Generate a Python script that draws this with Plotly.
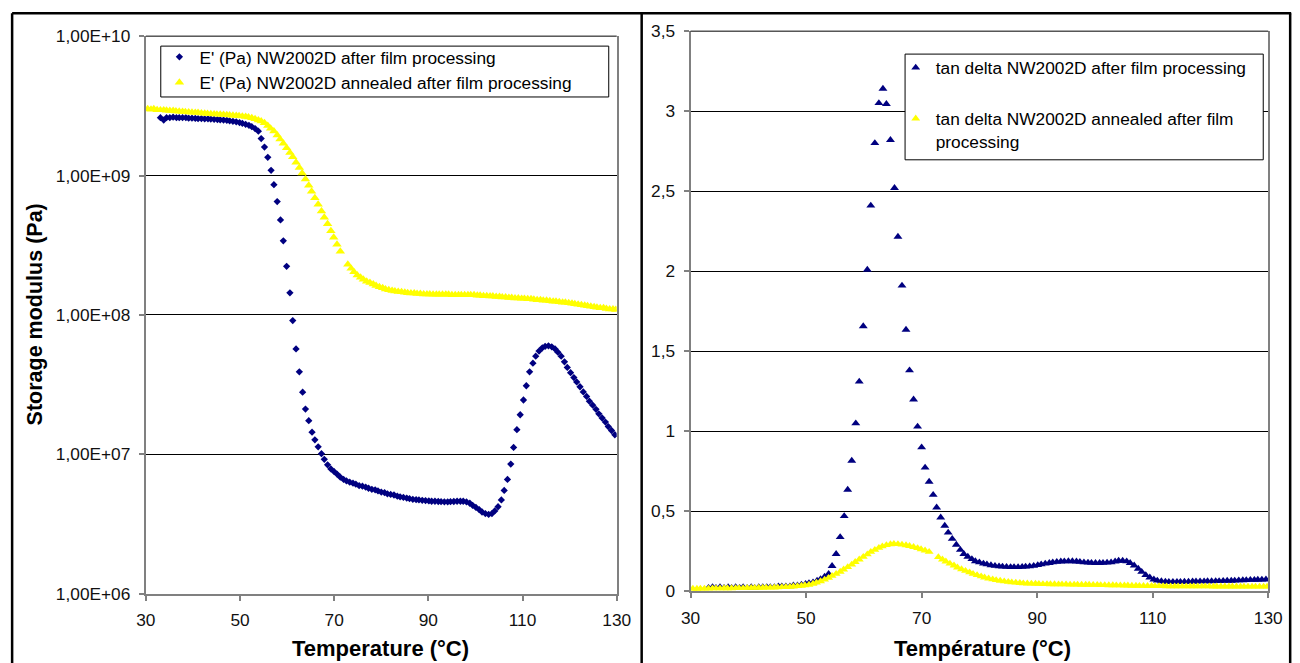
import plotly.graph_objects as go

# ---------------- data ----------------
# temperatures (°C) of the sample "after film processing"
T_BLUE = [
    33.1, 33.8, 34.4, 35.1, 35.8, 36.5, 37.1, 37.8, 38.5, 39.1,
    39.8, 40.5, 41.1, 41.8, 42.5, 43.2, 43.8, 44.5, 45.2, 45.8,
    46.5, 47.2, 47.8, 48.5, 49.2, 49.9, 50.5, 51.2, 51.9, 52.5,
    53.2, 53.9, 54.5, 55.2, 55.9, 56.6, 57.2, 57.9, 58.6, 59.2,
    59.9, 60.6, 61.2, 61.9, 62.6, 63.3, 63.9, 64.6, 65.3, 65.9,
    66.6, 67.3, 67.9, 68.6, 69.3, 70.0, 70.6, 71.3, 72.0, 72.6,
    73.3, 74.0, 74.6, 75.3, 76.0, 76.7, 77.3, 78.0, 78.7, 79.3,
    80.0, 80.7, 81.3, 82.0, 82.7, 83.4, 84.0, 84.7, 85.4, 86.0,
    86.7, 87.4, 88.0, 88.7, 89.4, 90.1, 90.7, 91.4, 92.1, 92.7,
    93.4, 94.1, 94.7, 95.4, 96.1, 96.8, 97.4, 98.1, 98.8, 99.4,
    100.1, 100.8, 101.4, 102.1, 102.8, 103.5, 104.1, 104.8, 105.5, 106.1,
    106.8, 107.5, 108.1, 108.8, 109.5, 110.2, 110.8, 111.5, 112.2, 112.8,
    113.5, 114.2, 114.8, 115.5, 116.2, 116.9, 117.5, 118.2, 118.9, 119.5,
    120.2, 120.9, 121.5, 122.2, 122.9, 123.6, 124.2, 124.9, 125.6, 126.2,
    126.9, 127.6, 128.2, 128.9, 129.6,
]
# storage modulus E' (Pa), after film processing
E_BLUE = [
    2.6e9, 2.5e9, 2.6e9, 2.6e9, 2.62e9, 2.6e9, 2.6e9, 2.6e9, 2.6e9, 2.58e9,
    2.58e9, 2.57e9, 2.56e9, 2.56e9, 2.55e9, 2.55e9, 2.54e9, 2.53e9, 2.52e9, 2.51e9,
    2.5e9, 2.49e9, 2.47e9, 2.45e9, 2.43e9, 2.4e9, 2.37e9, 2.33e9, 2.29e9, 2.24e9,
    2.17e9, 2.08e9, 1.84e9, 1.6e9, 1.35e9, 1.09e9, 8.6e8, 6.5e8, 4.8e8, 3.4e8,
    2.23e8, 1.44e8, 9.1e7, 5.7e7, 3.9e7, 2.79e7, 2.11e7, 1.74e7, 1.44e7, 1.27e7,
    1.13e7, 1.01e7, 9.2e6, 8.4e6, 7.85e6, 7.5e6, 7.2e6, 6.85e6, 6.6e6, 6.45e6,
    6.3e6, 6.2e6, 6.1e6, 5.95e6, 5.9e6, 5.8e6, 5.7e6, 5.6e6, 5.55e6, 5.45e6,
    5.35e6, 5.3e6, 5.2e6, 5.15e6, 5.1e6, 5.0e6, 4.95e6, 4.9e6, 4.85e6, 4.8e6,
    4.75e6, 4.72e6, 4.7e6, 4.67e6, 4.65e6, 4.62e6, 4.6e6, 4.6e6, 4.58e6, 4.57e6,
    4.56e6, 4.56e6, 4.57e6, 4.58e6, 4.6e6, 4.6e6, 4.6e6, 4.55e6, 4.45e6, 4.3e6,
    4.15e6, 4.0e6, 3.85e6, 3.75e6, 3.7e6, 3.75e6, 3.92e6, 4.2e6, 4.7e6, 5.5e6,
    6.6e6, 8.5e6, 1.12e7, 1.5e7, 1.92e7, 2.45e7, 3.1e7, 3.9e7, 4.5e7, 5.05e7,
    5.5e7, 5.8e7, 5.95e7, 6.0e7, 5.9e7, 5.7e7, 5.4e7, 5.05e7, 4.6e7, 4.2e7,
    3.85e7, 3.55e7, 3.3e7, 3.05e7, 2.8e7, 2.6e7, 2.4e7, 2.25e7, 2.1e7, 1.95e7,
    1.82e7, 1.7e7, 1.58e7, 1.48e7, 1.38e7,
]
# tan delta, after film processing
TD_BLUE = [
    0.02, 0.025, 0.02, 0.025, 0.02, 0.025, 0.02, 0.025, 0.02, 0.025,
    0.02, 0.025, 0.02, 0.025, 0.025, 0.025, 0.025, 0.025, 0.03, 0.03,
    0.03, 0.03, 0.035, 0.035, 0.04, 0.045, 0.05, 0.055, 0.065, 0.075,
    0.09, 0.108, 0.157, 0.232, 0.338, 0.469, 0.634, 0.815, 1.049, 1.31,
    1.656, 2.009, 2.41, 2.80, 3.05, 3.14, 3.045, 2.82, 2.52, 2.215,
    1.91, 1.634, 1.38, 1.198, 1.028, 0.899, 0.772, 0.684, 0.602, 0.523,
    0.46, 0.409, 0.366, 0.327, 0.29, 0.258, 0.232, 0.215, 0.2, 0.187,
    0.18, 0.172, 0.167, 0.162, 0.158, 0.155, 0.153, 0.152, 0.15, 0.15,
    0.15, 0.152, 0.153, 0.155, 0.158, 0.163, 0.167, 0.172, 0.176, 0.18,
    0.183, 0.185, 0.186, 0.187, 0.187, 0.185, 0.183, 0.18, 0.178, 0.177,
    0.176, 0.176, 0.177, 0.178, 0.18, 0.185, 0.19, 0.19, 0.186, 0.176,
    0.16, 0.14, 0.12, 0.1, 0.085, 0.073, 0.066, 0.062, 0.059, 0.058,
    0.058, 0.058, 0.058, 0.059, 0.059, 0.06, 0.06, 0.061, 0.061, 0.062,
    0.062, 0.063, 0.063, 0.064, 0.065, 0.065, 0.066, 0.067, 0.068, 0.069,
    0.07, 0.07, 0.071, 0.072, 0.073,
]

# temperatures (°C) of the annealed sample
T_YELLOW = [
    30.4, 31.1, 31.7, 32.4, 33.1, 33.8, 34.4, 35.1, 35.8, 36.4,
    37.1, 37.8, 38.4, 39.1, 39.8, 40.5, 41.1, 41.8, 42.5, 43.1,
    43.8, 44.5, 45.1, 45.8, 46.5, 47.2, 47.8, 48.5, 49.2, 49.8,
    50.5, 51.2, 51.8, 52.5, 53.2, 53.9, 54.5, 55.2, 55.9, 56.5,
    57.2, 57.9, 58.5, 59.2, 59.9, 60.6, 61.2, 61.9, 62.6, 63.2,
    63.9, 64.6, 65.2, 65.9, 66.6, 67.3, 67.9, 68.6, 69.3, 69.9,
    70.6, 71.3, 72.9, 73.6, 74.2, 74.9, 75.6, 76.2, 76.9, 77.6,
    78.3, 78.9, 79.6, 80.3, 80.9, 81.6, 82.3, 82.9, 83.6, 84.3,
    85.0, 85.6, 86.3, 87.0, 87.6, 88.3, 89.0, 89.7, 90.3, 91.0,
    91.7, 92.3, 93.0, 93.7, 94.3, 95.0, 95.7, 96.4, 97.0, 97.7,
    98.4, 99.0, 99.7, 100.4, 101.0, 101.7, 102.4, 103.1, 103.7, 104.4,
    105.1, 105.7, 106.4, 107.1, 107.7, 108.4, 109.1, 109.8, 110.4, 111.1,
    111.8, 112.4, 113.1, 113.8, 114.4, 115.1, 115.8, 116.5, 117.1, 117.8,
    118.5, 119.1, 119.8, 120.5, 121.1, 121.8, 122.5, 123.2, 123.8, 124.5,
    125.2, 125.8, 126.5, 127.2, 127.8, 128.5, 129.2, 129.8,
]
# storage modulus E' (Pa), annealed
E_YELLOW = [
    3.0e9, 2.98e9, 3.0e9, 2.96e9, 2.95e9, 2.95e9, 2.93e9, 2.92e9, 2.92e9, 2.9e9,
    2.88e9, 2.87e9, 2.86e9, 2.85e9, 2.84e9, 2.83e9, 2.82e9, 2.8e9, 2.79e9, 2.78e9,
    2.77e9, 2.76e9, 2.75e9, 2.74e9, 2.73e9, 2.72e9, 2.71e9, 2.7e9, 2.69e9, 2.68e9,
    2.66e9, 2.64e9, 2.62e9, 2.59e9, 2.55e9, 2.5e9, 2.45e9, 2.38e9, 2.28e9, 2.18e9,
    2.08e9, 1.95e9, 1.82e9, 1.7e9, 1.58e9, 1.46e9, 1.36e9, 1.24e9, 1.14e9, 1.04e9,
    9.4e8, 8.5e8, 7.7e8, 6.9e8, 6.2e8, 5.55e8, 5.0e8, 4.5e8, 4.0e8, 3.6e8,
    3.2e8, 2.85e8, 2.3e8, 2.15e8, 2.03e8, 1.93e8, 1.86e8, 1.8e8, 1.74e8, 1.7e8,
    1.66e8, 1.62e8, 1.59e8, 1.56e8, 1.53e8, 1.51e8, 1.49e8, 1.48e8, 1.47e8, 1.46e8,
    1.45e8, 1.44e8, 1.43e8, 1.43e8, 1.42e8, 1.42e8, 1.41e8, 1.41e8, 1.41e8, 1.40e8,
    1.40e8, 1.40e8, 1.40e8, 1.40e8, 1.40e8, 1.39e8, 1.39e8, 1.39e8, 1.39e8, 1.39e8,
    1.39e8, 1.39e8, 1.39e8, 1.38e8, 1.38e8, 1.37e8, 1.37e8, 1.36e8, 1.36e8, 1.35e8,
    1.35e8, 1.34e8, 1.34e8, 1.33e8, 1.33e8, 1.32e8, 1.32e8, 1.31e8, 1.31e8, 1.30e8,
    1.30e8, 1.29e8, 1.28e8, 1.28e8, 1.27e8, 1.27e8, 1.26e8, 1.25e8, 1.25e8, 1.24e8,
    1.23e8, 1.23e8, 1.22e8, 1.21e8, 1.20e8, 1.19e8, 1.18e8, 1.17e8, 1.16e8, 1.15e8,
    1.14e8, 1.13e8, 1.12e8, 1.12e8, 1.11e8, 1.10e8, 1.10e8, 1.09e8,
]
# tan delta, annealed
TD_YELLOW = [
    0.015, 0.015, 0.016, 0.016, 0.016, 0.017, 0.017, 0.017, 0.018, 0.018,
    0.018, 0.019, 0.019, 0.019, 0.02, 0.02, 0.02, 0.021, 0.021, 0.022,
    0.022, 0.023, 0.024, 0.025, 0.026, 0.027, 0.029, 0.031, 0.034, 0.037,
    0.04, 0.046, 0.053, 0.062, 0.072, 0.083, 0.095, 0.108, 0.121, 0.135,
    0.15, 0.166, 0.182, 0.198, 0.214, 0.23, 0.245, 0.258, 0.27, 0.28,
    0.288, 0.293, 0.295, 0.294, 0.291, 0.287, 0.282, 0.276, 0.269, 0.262,
    0.254, 0.245, 0.213, 0.198, 0.185, 0.172, 0.16, 0.148, 0.137, 0.127,
    0.117, 0.108, 0.1, 0.092, 0.085, 0.079, 0.074, 0.069, 0.065, 0.061,
    0.058, 0.055, 0.053, 0.051, 0.049, 0.048, 0.047, 0.046, 0.045, 0.044,
    0.044, 0.043, 0.043, 0.042, 0.042, 0.042, 0.041, 0.041, 0.041, 0.04,
    0.04, 0.04, 0.039, 0.039, 0.038, 0.038, 0.037, 0.037, 0.036, 0.036,
    0.035, 0.035, 0.034, 0.034, 0.033, 0.033, 0.032, 0.032, 0.031, 0.031,
    0.031, 0.03, 0.03, 0.03, 0.03, 0.03, 0.03, 0.03, 0.03, 0.03,
    0.03, 0.03, 0.03, 0.029, 0.029, 0.029, 0.029, 0.029, 0.029, 0.029,
    0.028, 0.028, 0.028, 0.028, 0.028, 0.028, 0.028, 0.028,
]

X_TICKS = [30, 50, 70, 90, 110, 130]
E_TICKS = [1e6, 1e7, 1e8, 1e9, 1e10]
E_TICK_TEXT = ["1,00E+06", "1,00E+07", "1,00E+08", "1,00E+09", "1,00E+10"]
TD_TICKS = [0, 0.5, 1, 1.5, 2, 2.5, 3, 3.5]
TD_TICK_TEXT = ["0", "0,5", "1", "1,5", "2", "2,5", "3", "3,5"]

NAVY = "#000080"
YELLOW = "#FFFF00"
FONT = "Liberation Sans, Arial, sans-serif"

# The page keeps an 8 px body margin and the capture is scaled slightly;
# layout positions below are given in screenshot pixels and converted.
OFF = 8
SX, SY = 0.984, 0.973
W, H = 1314, 674


def px(x):
    """screenshot x pixel -> paper fraction"""
    return (x / SX - OFF) / W


def py(y):
    """screenshot y pixel (from top) -> paper fraction"""
    return 1 - (y / SY - OFF) / H


fig = go.Figure()

fig.add_trace(go.Scatter(
    x=T_BLUE, y=E_BLUE, mode="markers", xaxis="x", yaxis="y", legend="legend",
    name="E' (Pa) NW2002D after film processing",
    marker=dict(symbol="diamond", size=5.6, color=NAVY)))
fig.add_trace(go.Scatter(
    x=T_YELLOW, y=E_YELLOW, mode="markers", xaxis="x", yaxis="y", legend="legend",
    name="E' (Pa) NW2002D annealed after film processing",
    marker=dict(symbol="triangle-up", size=8.3, color=YELLOW)))
fig.add_trace(go.Scatter(
    x=T_BLUE, y=TD_BLUE, mode="markers", xaxis="x2", yaxis="y2", legend="legend2",
    legendgroup="a", name="tan delta NW2002D after film processing",
    marker=dict(symbol="triangle-up", size=7.8, color=NAVY)))
fig.add_trace(go.Scatter(
    x=T_YELLOW, y=TD_YELLOW, mode="markers", xaxis="x2", yaxis="y2", legend="legend2",
    legendgroup="b", name="tan delta NW2002D annealed after film<br>processing",
    marker=dict(symbol="triangle-up", size=7.8, color=YELLOW)))

axis_common = dict(
    showline=True, linecolor="#808080", linewidth=2,
    ticks="outside", ticklen=5, tickwidth=1.5, tickcolor="#808080",
    tickfont=dict(family=FONT, size=17.3, color="#111111"),
    ticklabelstandoff=5, zeroline=False,
)

L_X0, L_X1, L_Y0, L_Y1 = 144, 616, 34, 593
R_X0, R_X1, R_Y0, R_Y1 = 690, 1269, 29, 590.5

legend_common = dict(
    xanchor="left", yanchor="top", bgcolor="rgba(0,0,0,0)", borderwidth=0,
    font=dict(family=FONT, size=17.3, color="#000000"),
    itemclick=False, itemdoubleclick=False,
)

fig.update_layout(
    width=W, height=H,
    margin=dict(l=0, r=0, t=0, b=0),
    paper_bgcolor="white", plot_bgcolor="white",
    font=dict(family=FONT, color="#000000"),
    xaxis=dict(domain=[px(L_X0), px(L_X1)], anchor="y", range=[30, 130],
               tickvals=X_TICKS, showgrid=False, **axis_common),
    yaxis=dict(domain=[py(L_Y1), py(L_Y0)], anchor="x", type="log", range=[6, 10],
               tickvals=E_TICKS, ticktext=E_TICK_TEXT, mirror=True,
               showgrid=True, gridcolor="#000000", gridwidth=1, **axis_common),
    xaxis2=dict(domain=[px(R_X0), px(R_X1)], anchor="y2", range=[30, 130],
                tickvals=X_TICKS, showgrid=False, **axis_common),
    yaxis2=dict(domain=[py(R_Y1), py(R_Y0)], anchor="x2", range=[0, 3.5],
                tickvals=TD_TICKS, ticktext=TD_TICK_TEXT, mirror=True,
                showgrid=True, gridcolor="#000000", gridwidth=1, **axis_common),
    legend=dict(x=152.2 / W, y=1 - 30.0 / H, **legend_common),
    legend2=dict(x=902.2 / W, y=1 - 41.0 / H, tracegroupgap=25.5, valign="top",
                 **legend_common),
    showlegend=True,
)

fig.add_annotation(text="<b>Storage modulus (Pa)</b>", textangle=-90,
                   x=px(33), y=py(313), xref="paper", yref="paper",
                   showarrow=False, font=dict(family=FONT, size=21.5, color="#000000"),
                   xanchor="center", yanchor="middle")
fig.add_annotation(text="<b>Temperature (°C)</b>",
                   x=px(379), y=py(648), xref="paper", yref="paper",
                   showarrow=False, font=dict(family=FONT, size=22, color="#000000"),
                   xanchor="center", yanchor="middle")
fig.add_annotation(text="<b>Température (°C)</b>",
                   x=px(983), y=py(648), xref="paper", yref="paper",
                   showarrow=False, font=dict(family=FONT, size=22, color="#000000"),
                   xanchor="center", yanchor="middle")

# top border lines of the two plot areas (the gridline at the range maximum)
fig.add_shape(type="line", xref="x domain", yref="y domain", x0=0, x1=1, y0=1, y1=1,
              line=dict(color="#000000", width=1))
fig.add_shape(type="line", xref="x2 domain", yref="y2 domain", x0=0, x1=1, y0=1, y1=1,
              line=dict(color="#000000", width=1))

# legend boxes
box = dict(type="rect", xref="paper", yref="paper", fillcolor="white",
           line=dict(color="#000000", width=1), layer="above")
fig.add_shape(x0=px(159), x1=px(608), y0=py(95), y1=py(44), **box)
fig.add_shape(x0=px(905), x1=px(1264), y0=py(158), y1=py(52), **box)

# outer frames of the two chart objects
frame = dict(color="#000000", width=2.5)
fig.add_shape(type="line", xref="paper", yref="paper", x0=px(10), x1=px(10), y0=0, y1=py(11), line=frame)
fig.add_shape(type="line", xref="paper", yref="paper", x0=px(10), x1=px(1292), y0=py(11), y1=py(11), line=frame)
fig.add_shape(type="line", xref="paper", yref="paper", x0=px(641), x1=px(641), y0=0, y1=py(11), line=frame)
fig.add_shape(type="line", xref="paper", yref="paper", x0=px(1291), x1=px(1291), y0=0, y1=py(11), line=frame)

fig.write_html("out.html")
